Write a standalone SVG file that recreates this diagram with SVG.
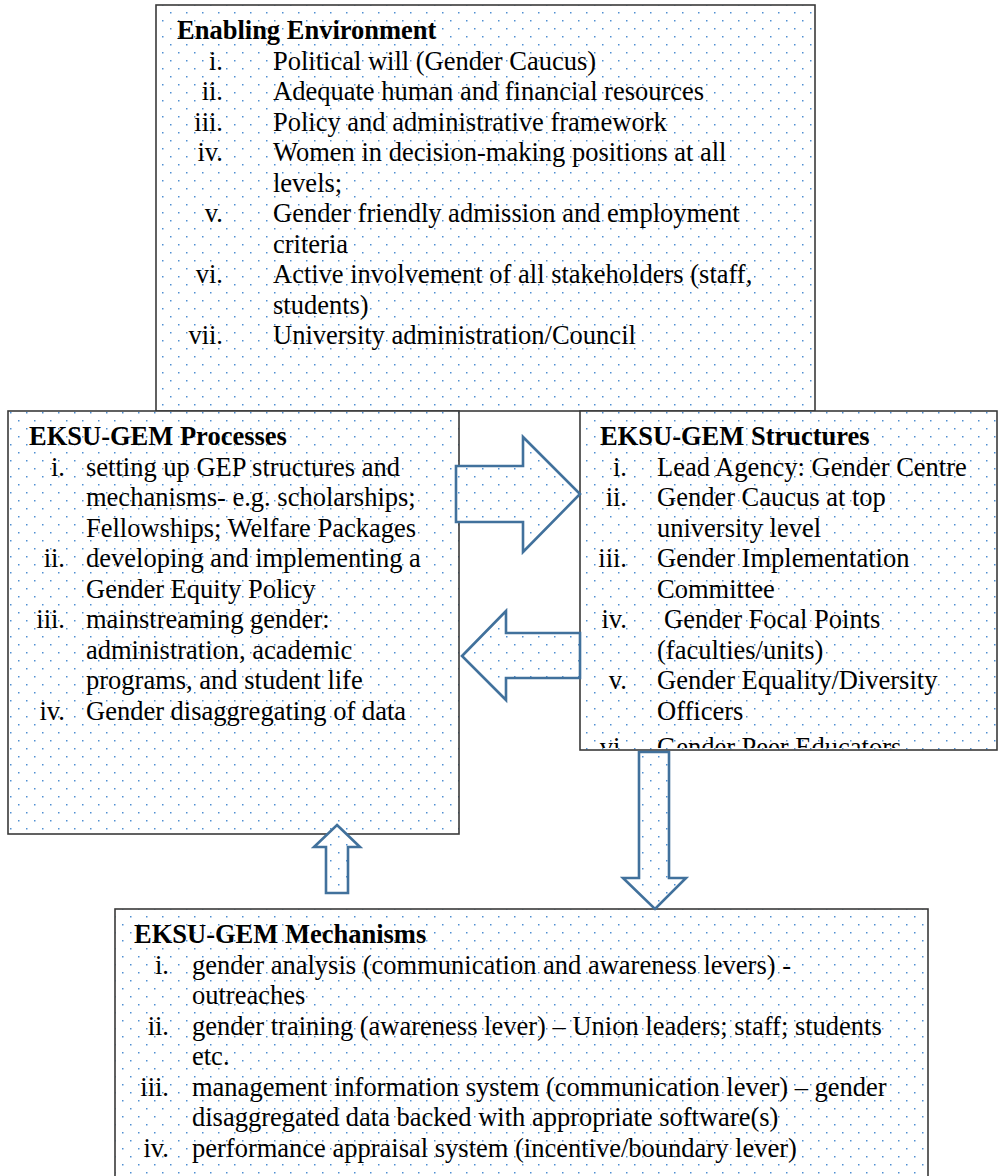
<svg xmlns="http://www.w3.org/2000/svg" width="998" height="1176" viewBox="0 0 998 1176">
<defs>
<pattern id="dots" x="0" y="0" width="16" height="16" patternUnits="userSpaceOnUse">
<rect x="2" y="4" width="1.5" height="1.5" fill="#4F8FD2"/>
<rect x="10" y="12" width="1.5" height="1.5" fill="#4F8FD2"/>
</pattern>
<clipPath id="clipR"><rect x="580" y="411" width="418" height="337"/></clipPath>
</defs>
<style>
.box{fill:url(#dots);stroke:#3a3a3a;stroke-width:1.6}
.bg{fill:#ffffff;stroke:none}
.arrow{fill:url(#dots);stroke:#41719C;stroke-width:2.6;stroke-linejoin:miter}
.arrowbg{fill:#ffffff;stroke:none}
text{font-family:"Liberation Serif","Times New Roman",serif;font-size:26.5px;fill:#000}
.t{font-weight:bold}
.n{text-anchor:end}
</style>
<rect x="0" y="0" width="998" height="1176" fill="#ffffff"/>

<g id="enabling-environment">
<rect class="box" x="156" y="5" width="659" height="406"/>
<text class="t" x="177" y="39">Enabling Environment</text>
<text class="n" x="223" y="69.5">i.</text><text x="273" y="69.5">Political will (Gender Caucus)</text>
<text class="n" x="223" y="100">ii.</text><text x="273" y="100">Adequate human and financial resources</text>
<text class="n" x="223" y="130.5">iii.</text><text x="273" y="130.5">Policy and administrative framework</text>
<text class="n" x="223" y="161">iv.</text><text x="273" y="161">Women in decision-making positions at all</text>
<text x="273" y="191.5">levels;</text>
<text class="n" x="223" y="222">v.</text><text x="273" y="222">Gender friendly admission and employment</text>
<text x="273" y="252.5">criteria</text>
<text class="n" x="223" y="283">vi.</text><text x="273" y="283">Active involvement of all stakeholders (staff,</text>
<text x="273" y="313.5">students)</text>
<text class="n" x="223" y="344">vii.</text><text x="273" y="344">University administration/Council</text>
</g>

<g id="eksu-gem-processes">
<rect class="bg" x="8" y="411" width="451" height="423"/>
<rect class="box" x="8" y="411" width="451" height="423"/>
<text class="t" x="29" y="445">EKSU-GEM Processes</text>
<text class="n" x="65" y="475.5">i.</text><text x="86" y="475.5">setting up GEP structures and</text>
<text x="86" y="506">mechanisms- e.g. scholarships;</text>
<text x="86" y="536.5">Fellowships; Welfare Packages</text>
<text class="n" x="65" y="567">ii.</text><text x="86" y="567">developing and implementing a</text>
<text x="86" y="597.5">Gender Equity Policy</text>
<text class="n" x="65" y="628">iii.</text><text x="86" y="628">mainstreaming gender:</text>
<text x="86" y="658.5">administration, academic</text>
<text x="86" y="689">programs, and student life</text>
<text class="n" x="65" y="719.5">iv.</text><text x="86" y="719.5">Gender disaggregating of data</text>
</g>

<g id="eksu-gem-structures">
<rect class="bg" x="580" y="411" width="417" height="339"/>
<rect class="box" x="580" y="411" width="417" height="339"/>
<g clip-path="url(#clipR)">
<text class="t" x="600" y="445">EKSU-GEM Structures</text>
<text class="n" x="627" y="475.5">i.</text><text x="657" y="475.5">Lead Agency: Gender Centre</text>
<text class="n" x="627" y="506">ii.</text><text x="657" y="506">Gender Caucus at top</text>
<text x="657" y="536.5">university level</text>
<text class="n" x="627" y="567">iii.</text><text x="657" y="567">Gender Implementation</text>
<text x="657" y="597.5">Committee</text>
<text class="n" x="627" y="628">iv.</text><text x="664" y="628">Gender Focal Points</text>
<text x="657" y="658.5">(faculties/units)</text>
<text class="n" x="627" y="689">v.</text><text x="657" y="689">Gender Equality/Diversity</text>
<text x="657" y="719.5">Officers</text>
<text class="n" x="627" y="756">vi.</text><text x="657" y="756">Gender Peer Educators</text>
</g>
</g>

<g id="eksu-gem-mechanisms">
<rect class="bg" x="115" y="909" width="813" height="290"/>
<rect class="box" x="115" y="909" width="813" height="290"/>
<text class="t" x="134" y="943">EKSU-GEM Mechanisms</text>
<text class="n" x="169" y="973.5">i.</text><text x="192" y="973.5">gender analysis (communication and awareness levers) -</text>
<text x="192" y="1004">outreaches</text>
<text class="n" x="169" y="1034.5">ii.</text><text x="192" y="1034.5">gender training (awareness lever) – Union leaders; staff; students</text>
<text x="192" y="1065">etc.</text>
<text class="n" x="169" y="1095.5">iii.</text><text x="192" y="1095.5">management information system (communication lever) – gender</text>
<text x="192" y="1126">disaggregated data backed with appropriate software(s)</text>
<text class="n" x="169" y="1156.5">iv.</text><text x="192" y="1156.5">performance appraisal system (incentive/boundary lever)</text>
</g>

<g id="connectors">
<g id="arrow-processes-structures">
<polygon class="arrowbg" points="456,466 523,466 523,437 580,494 523,552 523,522 456,522"/>
<polygon class="arrow" points="456,466 523,466 523,437 580,494 523,552 523,522 456,522"/>
</g>
<g id="arrow-structures-processes">
<polygon class="arrowbg" points="462,656 506,611 506,633 580,633 580,678 506,678 506,700"/>
<polygon class="arrow" points="462,656 506,611 506,633 580,633 580,678 506,678 506,700"/>
</g>
<g id="arrow-structures-mechanisms">
<polygon class="arrowbg" points="639,752 669,752 669,878 686,878 655,909 623,878 639,878"/>
<polygon class="arrow" points="639,752 669,752 669,878 686,878 655,909 623,878 639,878"/>
</g>
<g id="arrow-mechanisms-processes">
<polygon class="arrowbg" points="337,825 360,847 348,847 348,893 326,893 326,847 314,847"/>
<polygon class="arrow" points="337,825 360,847 348,847 348,893 326,893 326,847 314,847"/>
</g>
</g>
</svg>
